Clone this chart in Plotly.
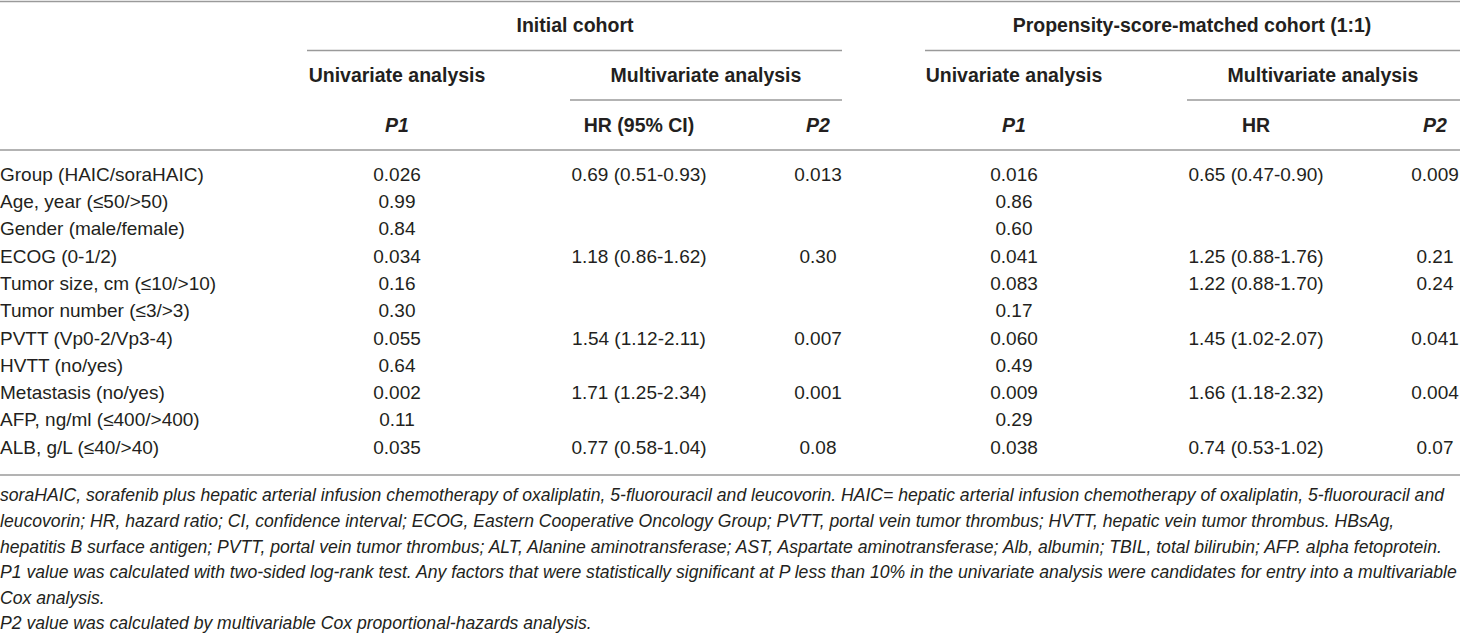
import plotly.graph_objects as go

# ---------------------------------------------------------------- data
factors = [
    "Group (HAIC/soraHAIC)",
    "Age, year (≤50/>50)",
    "Gender (male/female)",
    "ECOG (0-1/2)",
    "Tumor size, cm (≤10/>10)",
    "Tumor number (≤3/>3)",
    "PVTT (Vp0-2/Vp3-4)",
    "HVTT (no/yes)",
    "Metastasis (no/yes)",
    "AFP, ng/ml (≤400/>400)",
    "ALB, g/L (≤40/>40)",
]

# initial cohort
init_p1 = ["0.026", "0.99", "0.84", "0.034", "0.16", "0.30", "0.055", "0.64", "0.002", "0.11", "0.035"]
init_hr = ["0.69 (0.51-0.93)", "", "", "1.18 (0.86-1.62)", "", "", "1.54 (1.12-2.11)", "",
           "1.71 (1.25-2.34)", "", "0.77 (0.58-1.04)"]
init_p2 = ["0.013", "", "", "0.30", "", "", "0.007", "", "0.001", "", "0.08"]

# propensity-score-matched cohort
psm_p1 = ["0.016", "0.86", "0.60", "0.041", "0.083", "0.17", "0.060", "0.49", "0.009", "0.29", "0.038"]
psm_hr = ["0.65 (0.47-0.90)", "", "", "1.25 (0.88-1.76)", "1.22 (0.88-1.70)", "", "1.45 (1.02-2.07)", "",
          "1.66 (1.18-2.32)", "", "0.74 (0.53-1.02)"]
psm_p2 = ["0.009", "", "", "0.21", "0.24", "", "0.041", "", "0.004", "", "0.07"]

cohort_headers = ["Initial cohort", "Propensity-score-matched cohort (1:1)"]
analysis_headers = ["Univariate analysis", "Multivariate analysis",
                    "Univariate analysis", "Multivariate analysis"]
stat_headers = ["<i>P1</i>", "HR (95% CI)", "<i>P2</i>", "<i>P1</i>", "HR", "<i>P2</i>"]

footnotes = [
    "soraHAIC, sorafenib plus hepatic arterial infusion chemotherapy of oxaliplatin, 5-fluorouracil and "
    "leucovorin. HAIC= hepatic arterial infusion chemotherapy of oxaliplatin, 5-fluorouracil and",
    "leucovorin; HR, hazard ratio; CI, confidence interval; ECOG, Eastern Cooperative Oncology Group; "
    "PVTT, portal vein tumor thrombus; HVTT, hepatic vein tumor thrombus. HBsAg,",
    "hepatitis B surface antigen; PVTT, portal vein tumor thrombus; ALT, Alanine aminotransferase; "
    "AST, Aspartate aminotransferase; Alb, albumin; TBIL, total bilirubin; AFP. alpha fetoprotein.",
    "P1 value was calculated with two-sided log-rank test. Any factors that were statistically significant "
    "at P less than 10% in the univariate analysis were candidates for entry into a multivariable",
    "Cox analysis.",
    "P2 value was calculated by multivariable Cox proportional-hazards analysis.",
]

# ---------------------------------------------------------------- page grid (pixels)
W, H = 1460, 635
FONT = "Liberation Sans, Arial, sans-serif"
INK = "#231f20"
RULE = "#9a9a9a"

ROW0, ROW_STEP = 176, 27.3
NOTE0, NOTE_STEP = 497, 25.6
HEAD_Y = [27, 77, 127]

cohort_x = [575, 1192]
analysis_x = [397, 706, 1014, 1323]
col_x = [397, 639, 818, 1014, 1256, 1435]

row_y = [ROW0 + i * ROW_STEP for i in range(len(factors))]
note_y = [NOTE0 + i * NOTE_STEP for i in range(len(footnotes))]

fig = go.Figure()


def add_text(xs, ys, texts, size=19, pos="middle center", bold=False, style="normal"):
    fig.add_trace(go.Scatter(
        x=xs, y=ys, text=[f"<b>{t}</b>" if bold and t else t for t in texts],
        mode="text", textposition=pos, hoverinfo="skip", showlegend=False,
        textfont=dict(family=FONT, size=size, color=INK, style=style),
    ))


# headers
add_text(cohort_x, [HEAD_Y[0]] * 2, cohort_headers, size=19.5, bold=True)
add_text(analysis_x, [HEAD_Y[1]] * 4, analysis_headers, size=19.5, bold=True)
add_text(col_x, [HEAD_Y[2]] * 6, stat_headers, size=19.5, bold=True)

# body
add_text([0] * len(factors), row_y, factors, pos="middle right")
for x, col in zip(col_x, [init_p1, init_hr, init_p2, psm_p1, psm_hr, psm_p2]):
    add_text([x] * len(col), row_y, col)

# footnotes
add_text([0] * len(footnotes), note_y, footnotes, size=17.6, pos="middle right", style="italic")

# rules
rules = [
    (0, W, 1.5),        # top
    (307, 842, 50.5),   # under "Initial cohort"
    (925, W, 50.5),     # under PSM cohort
    (570, 842, 100),    # under multivariate (initial)
    (1187, W, 100),     # under multivariate (PSM)
    (0, W, 150),        # header bottom
    (0, W, 475),        # table bottom
]
for x0, x1, y in rules:
    fig.add_shape(type="line", x0=x0, x1=x1, y0=y, y1=y, xref="x", yref="y",
                  line=dict(color=RULE, width=1.5))

fig.update_xaxes(range=[0, W], visible=False, fixedrange=True)
fig.update_yaxes(range=[H, 0], visible=False, fixedrange=True)
fig.update_layout(
    width=W, height=H,
    margin=dict(l=0, r=0, t=0, b=0),
    paper_bgcolor="white", plot_bgcolor="white",
)

# the page's default 8px body margin would push the table off the window
fig.write_html("out.html", config={"displayModeBar": False},
               post_script="document.body.style.margin='0';document.body.style.overflow='hidden';")
